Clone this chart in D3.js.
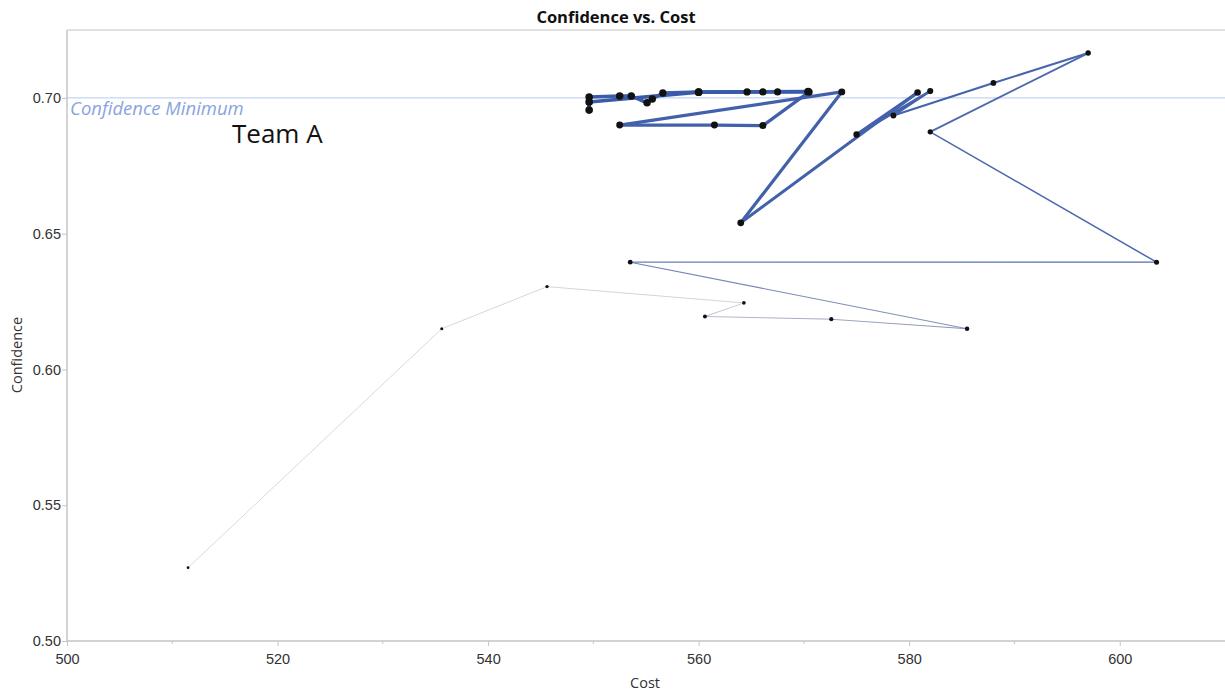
<!DOCTYPE html>
<html>
<head>
<meta charset="utf-8">
<script src="https://cdn.jsdelivr.net/npm/d3@7"></script>
<style>
  html, body { margin: 0; padding: 0; background: #fff; }
  svg { display: block; font-family: "Open Sans", "Noto Sans", sans-serif; }
</style>
</head>
<body>
<svg id="chart" width="1225" height="693"></svg>
<script>
// Team A trajectory, in the order the observations were made
const cost = [511.5, 535.6, 545.6, 564.3, 560.6, 572.6, 585.5, 553.5, 603.5, 582.0,
              597.0, 588.0, 578.5, 582.0, 575.0, 580.8, 564.0, 573.6, 552.5, 561.5,
              566.1, 570.5, 567.5, 566.1, 564.6, 560.0, 556.6, 555.6, 555.1, 553.6,
              552.5, 549.6, 549.6, 549.6, 560.0, 570.4];
const confidence = [0.5270, 0.6150, 0.6305, 0.6245, 0.6195, 0.6185, 0.6150, 0.6395, 0.6395, 0.6875,
                    0.7165, 0.7055, 0.6935, 0.7025, 0.6865, 0.7020, 0.6540, 0.7022, 0.6900, 0.6900,
                    0.6898, 0.7022, 0.7022, 0.7022, 0.7022, 0.7022, 0.7018, 0.6996, 0.6982, 0.7007,
                    0.7007, 0.7003, 0.6955, 0.6985, 0.7021, 0.7023];
const xTicks = [500, 520, 540, 560, 580, 600];
const xMinorTicks = [510, 530, 550, 570, 590];
const yTicks = [0.50, 0.55, 0.60, 0.65, 0.70];
const confidenceMinimum = 0.70;

const svg = d3.select("#chart");
const plotLeft = 67, plotRight = 1225, plotTop = 30, plotBottom = 641;

const x = d3.scaleLinear().domain([500, 610]).range([plotLeft, plotRight]);
const y = d3.scaleLinear().domain([0.50, 0.725]).range([plotBottom, plotTop]);

const axisColor = "#c4c4c4";
const textColor = "#333";

// frame: top edge
svg.append("line").attr("x1", plotLeft).attr("x2", plotRight).attr("y1", plotTop).attr("y2", plotTop)
  .attr("stroke", axisColor).attr("stroke-width", 1.2);

// x axis
const gx = svg.append("g").attr("transform", `translate(0,${plotBottom})`)
  .call(d3.axisBottom(x).tickValues(xTicks).tickSize(5).tickSizeOuter(0).tickFormat(d3.format("d")));
gx.append("g").selectAll("line").data(xMinorTicks).join("line")
  .attr("x1", d => x(d)).attr("x2", d => x(d)).attr("y1", 0).attr("y2", 3)
  .attr("stroke", axisColor);
gx.select(".domain").attr("stroke", axisColor).attr("stroke-width", 1.5).attr("d", `M${plotLeft},0H${plotRight}`);
gx.selectAll(".tick line").attr("stroke", axisColor);
gx.selectAll(".tick text").attr("fill", textColor).attr("font-size", 14.5).attr("dy", "1.05em");

// y axis
const gy = svg.append("g").attr("transform", `translate(${plotLeft},0)`)
  .call(d3.axisLeft(y).tickValues(yTicks).tickSize(5).tickSizeOuter(0).tickFormat(d3.format(".2f")));
gy.select(".domain").attr("stroke", axisColor).attr("stroke-width", 1.5).attr("d", `M0,${plotTop}V${plotBottom}`);
gy.selectAll(".tick line").attr("stroke", axisColor);
gy.selectAll(".tick text").attr("fill", textColor).attr("font-size", 14.5).attr("x", -6);

// axis titles and chart title
svg.append("text").attr("x", 616).attr("y", 23).attr("text-anchor", "middle")
  .attr("font-size", 16.5).attr("font-weight", "bold").attr("fill", "#111")
  .text("Confidence vs. Cost");
svg.append("text").attr("x", 645).attr("y", 688).attr("text-anchor", "middle")
  .attr("font-size", 14.5).attr("fill", textColor).text("Cost");
svg.append("text").attr("transform", "translate(22,355) rotate(-90)").attr("text-anchor", "middle")
  .attr("font-size", 14.5).attr("fill", textColor).text("Confidence");

// reference line for minimum confidence
svg.append("line").attr("x1", plotLeft).attr("x2", plotRight)
  .attr("y1", y(confidenceMinimum)).attr("y2", y(confidenceMinimum))
  .attr("stroke", "#b5cbef").attr("stroke-width", 1);
svg.append("text").attr("x", plotLeft + 3).attr("y", y(confidenceMinimum) + 17)
  .attr("font-size", 18.5).attr("font-style", "italic").attr("fill", "#88a4de")
  .text("Confidence Minimum");

svg.append("text").attr("x", 232).attr("y", 143)
  .attr("font-size", 26).attr("fill", "#111").text("Team A");

// trajectory: segments grow thicker and bluer with time
const pts = cost.map((c, i) => ({ i, c, v: confidence[i] }));
const n = pts.length;
const colorAt = d3.scaleLinear()
  .domain([0, 3, 6, 8, 12, n - 1])
  .range(["#d2d2d2", "#cfcfd4", "#8894b8", "#4e6bb0", "#4563ac", "#3a5aa8"])
  .interpolate(d3.interpolateRgb);
const widthAt = d3.scaleLinear().domain([0, 7, 9, 16, n - 1]).range([0.8, 1.1, 1.7, 3.2, 3.7]);
const radiusAt = d3.scaleLinear().domain([0, 7, 16, n - 1]).range([1.4, 2.4, 3.4, 3.9]);

const defs = svg.append("defs");
const segs = d3.pairs(pts);
segs.forEach(([a, b], k) => {
  const g = defs.append("linearGradient").attr("id", "seg" + k)
    .attr("gradientUnits", "userSpaceOnUse")
    .attr("x1", x(a.c)).attr("y1", y(a.v)).attr("x2", x(b.c)).attr("y2", y(b.v));
  g.append("stop").attr("offset", "0%").attr("stop-color", colorAt(a.i));
  g.append("stop").attr("offset", "100%").attr("stop-color", colorAt(b.i));
});

svg.append("g").selectAll("line").data(segs).join("line")
  .attr("x1", d => x(d[0].c)).attr("y1", d => y(d[0].v))
  .attr("x2", d => x(d[1].c)).attr("y2", d => y(d[1].v))
  .attr("stroke", (d, k) => `url(#seg${k})`)
  .attr("stroke-width", d => widthAt((d[0].i + d[1].i) / 2))
  .attr("stroke-linecap", "round");

svg.append("g").selectAll("circle").data(pts).join("circle")
  .attr("cx", d => x(d.c)).attr("cy", d => y(d.v))
  .attr("r", d => radiusAt(d.i))
  .attr("fill", "#111");
</script>
</body>
</html>
